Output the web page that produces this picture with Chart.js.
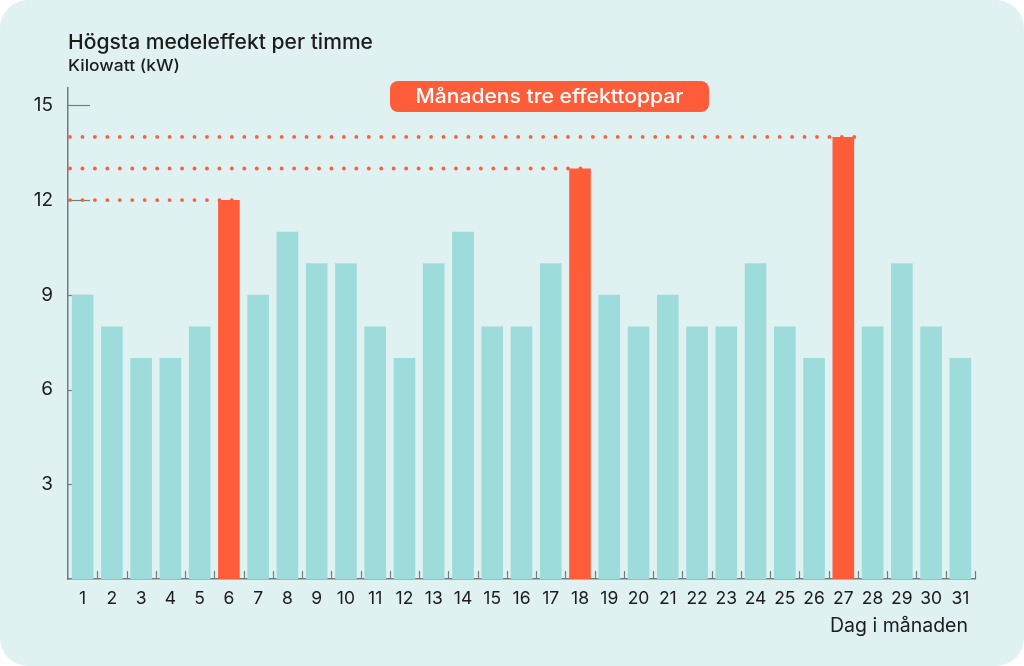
<!DOCTYPE html>
<html>
<head>
<meta charset="utf-8">
<script src="https://cdn.jsdelivr.net/npm/chart.js@4/dist/chart.umd.min.js"></script>
<style>
  html, body { margin: 0; padding: 0; background: #ffffff; }
  #wrap { width: 1024px; height: 666px; position: relative; }
</style>
</head>
<body>
<div id="wrap"><canvas id="c" width="1024" height="666"></canvas></div>
<script>
const days = ['1','2','3','4','5','6','7','8','9','10','11','12','13','14','15','16','17','18','19','20','21','22','23','24','25','26','27','28','29','30','31'];
const peakKw = [9,8,7,7,8,12,9,11,10,10,8,7,10,11,8,8,10,13,9,8,9,8,8,10,8,7,14,8,10,8,7];
const topPeakDays = ['6','18','27'];
const yTicks = [0,3,6,9,12,15];
const titleText = 'Högsta medeleffekt per timme';
const unitText = 'Kilowatt (kW)';
const xTitleText = 'Dag i månaden';
const badgeText = 'Månadens tre effekttoppar';

const BG = '#dff2f1';
const TEAL = '#9ddcda';
const ORANGE = '#ff5c3a';
const AXIS = '#6f7d7d';
const TEXT = '#1c1c1c';
const FONT = 'Inter, "Noto Sans", sans-serif';

function roundRect(ctx, x, y, w, h, r) {
  ctx.beginPath();
  ctx.moveTo(x + r, y);
  ctx.lineTo(x + w - r, y);
  ctx.arcTo(x + w, y, x + w, y + r, r);
  ctx.lineTo(x + w, y + h - r);
  ctx.arcTo(x + w, y + h, x + w - r, y + h, r);
  ctx.lineTo(x + r, y + h);
  ctx.arcTo(x, y + h, x, y + h - r, r);
  ctx.lineTo(x, y + r);
  ctx.arcTo(x, y, x + r, y, r);
  ctx.closePath();
}

function fitText(ctx, text, x, y, width, size, weight) {
  ctx.font = weight + ' ' + size + 'px ' + FONT;
  const w = ctx.measureText(text).width;
  const s = width / w;
  ctx.save();
  ctx.translate(x, y);
  ctx.scale(s, 1);
  ctx.fillText(text, 0, 0);
  ctx.restore();
}

const decor = {
  id: 'decor',
  beforeDraw(chart) {
    const ctx = chart.ctx;
    ctx.save();
    ctx.fillStyle = '#ffffff';
    ctx.fillRect(0, 0, chart.width, chart.height);
    ctx.fillStyle = BG;
    roundRect(ctx, 0, 0, chart.width, chart.height, 28);
    ctx.fill();
    ctx.restore();
  },
  beforeDatasetsDraw(chart) {
    const ctx = chart.ctx;
    const y = chart.scales.y;
    const left = chart.chartArea.left;
    ctx.save();
    ctx.strokeStyle = AXIS;
    ctx.lineWidth = 1.2;
    yTicks.forEach(v => {
      if (v === 0) return;
      const py = Math.round(y.getPixelForValue(v)) + 0.5;
      ctx.beginPath();
      ctx.moveTo(left, py);
      ctx.lineTo(left + 22, py);
      ctx.stroke();
    });
    ctx.restore();
  },
  afterDatasetsDraw(chart) {
    const ctx = chart.ctx;
    const area = chart.chartArea;
    const y = chart.scales.y;
    const meta = chart.getDatasetMeta(0);
    ctx.save();
    ctx.strokeStyle = AXIS;
    ctx.lineWidth = 1.2;
    const step = (area.right - area.left) / days.length;
    for (let k = 1; k <= days.length; k++) {
      const px = Math.round(area.left + k * step) + 0.5;
      ctx.beginPath();
      ctx.moveTo(px, area.bottom);
      ctx.lineTo(px, area.bottom - 8);
      ctx.stroke();
    }
    ctx.fillStyle = ORANGE;
    topPeakDays.forEach(d => {
      const i = days.indexOf(d);
      const bar = meta.data[i];
      const right = bar.x + bar.width / 2;
      const py = y.getPixelForValue(peakKw[i]);
      for (let px = area.left + 2; px <= right + 0.5; px += 12.45) {
        ctx.beginPath();
        ctx.arc(px, py, 1.9, 0, Math.PI * 2);
        ctx.fill();
      }
    });
    ctx.restore();
  },
  afterDraw(chart) {
    const ctx = chart.ctx;
    ctx.save();
    ctx.fillStyle = TEXT;
    ctx.textBaseline = 'middle';
    ctx.textAlign = 'left';
    fitText(ctx, titleText, 68, 43, 305, 20.5, 500);
    fitText(ctx, unitText, 68, 66, 112, 16, 500);
    ctx.textAlign = 'right';
    ctx.font = '400 19.5px ' + FONT;
    ctx.fillText(xTitleText, 968, 626);
    ctx.fillStyle = ORANGE;
    roundRect(ctx, 390, 81, 319, 31, 8);
    ctx.fill();
    ctx.fillStyle = '#ffffff';
    ctx.textAlign = 'center';
    fitText(ctx, badgeText, 549.5, 97, 268, 20, 500);
    ctx.restore();
  }
};

new Chart(document.getElementById('c'), {
  type: 'bar',
  data: {
    labels: days,
    datasets: [{
      data: peakKw,
      backgroundColor: days.map(d => topPeakDays.includes(d) ? ORANGE : TEAL),
      borderWidth: 0,
      barPercentage: 0.74,
      categoryPercentage: 1.0
    }]
  },
  options: {
    responsive: false,
    animation: false,
    devicePixelRatio: 1,
    layout: { padding: { left: 0, right: 49, top: 88, bottom: 0 } },
    plugins: { legend: { display: false }, tooltip: { enabled: false } },
    scales: {
      x: {
        grid: { display: false, drawTicks: false },
        border: { display: true, color: AXIS, width: 1.5 },
        ticks: { color: TEXT, font: { family: FONT, size: 17.5 }, padding: 9, maxRotation: 0, autoSkip: false },
        afterFit(s) { s.height = 87; }
      },
      y: {
        min: 0,
        max: 15.55,
        grid: { display: false, drawTicks: false },
        border: { display: true, color: AXIS, width: 1.5 },
        afterBuildTicks(s) { s.ticks = yTicks.map(v => ({ value: v })); },
        ticks: {
          color: TEXT,
          font: { family: FONT, size: 19 },
          padding: 15,
          callback: v => (v === 0 ? '' : String(v))
        },
        afterFit(s) { s.width = 68; }
      }
    }
  },
  plugins: [decor]
});
</script>
</body>
</html>
